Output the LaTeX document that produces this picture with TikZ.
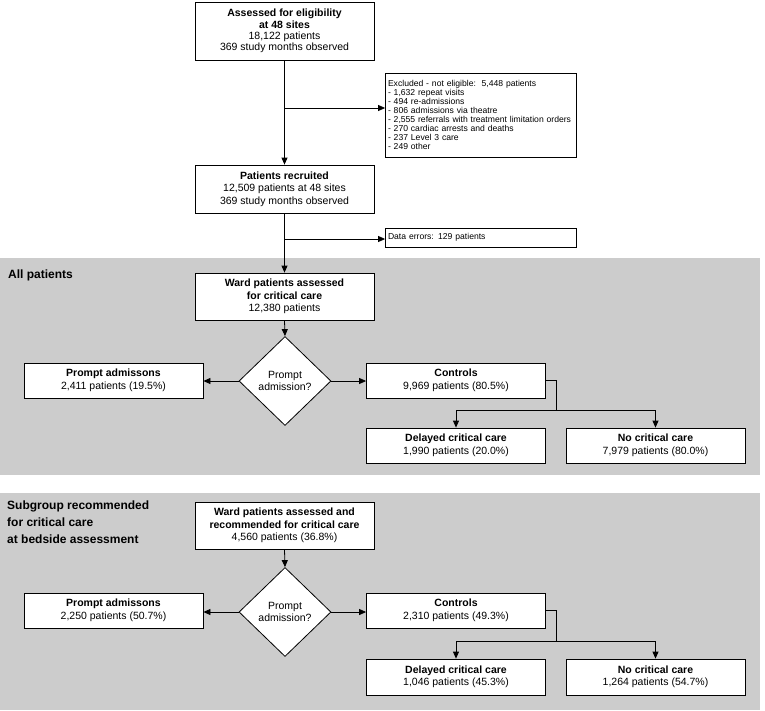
\documentclass[tikz,border=0pt]{standalone}
\usepackage{fontspec}
\setmainfont{Liberation Sans}
\usetikzlibrary{shapes.geometric,arrows.meta}
\definecolor{bandgray}{RGB}{204,204,204}
\newcommand\boxfont{\fontsize{10.5}{12.5}\selectfont}
\newcommand\tightfont{\fontsize{10.5}{11.3}\selectfont}
\newcommand\smallfont{\fontsize{8.6}{9.1}\selectfont}
\newcommand\labelfont{\fontsize{12}{16.7}\selectfont\bfseries}
\begin{document}
\begin{tikzpicture}[x=1pt,y=-1pt,
  box/.style={draw,fill=white,line width=0.8pt,align=center,inner sep=0pt,font=\boxfont},
  colbox/.style={box,minimum width=179pt},
  sidebox/.style={box,minimum width=179pt,minimum height=35pt},
  decision/.style={draw,fill=white,diamond,line width=0.8pt,inner sep=0pt,minimum width=92pt,minimum height=89pt,align=center,font=\boxfont},
  note/.style={draw,fill=white,line width=0.8pt,align=left,font=\smallfont,inner xsep=2.5pt,inner ysep=0pt,text width=186pt},
  conn/.style={line width=0.8pt},
  arr/.style={conn,-{Triangle[length=7pt,width=6pt]}},
  band/.style={fill=bandgray},
  bandlabel/.style={align=left,font=\labelfont,inner sep=0pt}]
\useasboundingbox (0,0) rectangle (765,710);
\fill[band] (0,258) rectangle (760,475);
\fill[band] (0,493) rectangle (760,710);

% top part
\node[colbox,minimum height=58pt,font=\tightfont] (assess) at (284.5,31) {\textbf{Assessed for eligibility}\\\textbf{at 48 sites}\\18,122 patients\\369 study months observed};
\node[note,minimum height=84pt] (excl) at (481,115) {Excluded - not eligible:\ \ 5,448 patients\\- 1,632 repeat visits\\- 494 re-admissions\\- 806 admissions via theatre\\- 2,555 referrals with treatment limitation orders\\- 270 cardiac arrests and deaths\\- 237 Level 3 care\\- 249 other};
\node[colbox,minimum height=48pt] (recr) at (284.5,189) {\textbf{Patients recruited}\\12,509 patients at 48 sites\\369 study months observed};
\node[note,minimum height=19pt] (err) at (481,237.5) {Data errors: 129 patients};

% band 1
\node[bandlabel,anchor=base west] (lab1) at (8,278) {All patients};
\node[colbox,minimum height=47pt] (ward1) at (284.5,296.5) {\textbf{Ward patients assessed}\\\textbf{for critical care}\\12,380 patients};
\node[decision] (d1) at (285,381) {Prompt\\admission?};
\node[sidebox] (prompt1) at (113.5,380.5) {\textbf{Prompt admissons}\\2,411 patients (19.5\%)};
\node[sidebox] (ctrl1) at (456,380.5) {\textbf{Controls}\\9,969 patients (80.5\%)};
\node[sidebox] (del1) at (456,445.5) {\textbf{Delayed critical care}\\1,990 patients (20.0\%)};
\node[sidebox] (no1) at (655.5,445.5) {\textbf{No critical care}\\7,979 patients (80.0\%)};

% band 2
\node[bandlabel,anchor=north west] (lab2) at (7,501) {Subgroup recommended\\for critical care\\at bedside assessment};
\node[colbox,minimum height=47pt] (ward2) at (284.5,525.5) {\textbf{Ward patients assessed and}\\\textbf{recommended for critical care}\\4,560 patients (36.8\%)};
\node[decision] (d2) at (285,612) {Prompt\\admission?};
\node[sidebox] (prompt2) at (113.5,610.5) {\textbf{Prompt admissons}\\2,250 patients (50.7\%)};
\node[sidebox] (ctrl2) at (456,610.5) {\textbf{Controls}\\2,310 patients (49.3\%)};
\node[sidebox,minimum height=36pt] (del2) at (456,677) {\textbf{Delayed critical care}\\1,046 patients (45.3\%)};
\node[sidebox,minimum height=36pt] (no2) at (655.5,677) {\textbf{No critical care}\\1,264 patients (54.7\%)};

% connectors
\draw[arr] (assess.south) -- (recr.north);
\coordinate (j1) at (284.5,108);
\draw[arr] (j1) -- (j1 -| excl.west);
\draw[arr] (recr.south) -- (ward1.north);
\coordinate (j2) at (284.5,239);
\draw[arr] (j2) -- (j2 -| err.west);

\draw[arr] (ward1.south) -- (d1.north);
\draw[arr] (d1.west) -- (d1.west -| prompt1.east);
\draw[arr] (d1.east) -- (d1.east -| ctrl1.west);
\coordinate (b1) at (556,410);
\draw[conn] (ctrl1.east) -| (b1);
\draw[arr] (b1) -| (del1.north);
\draw[arr] (b1) -| (no1.north);

\draw[arr] (ward2.south) -- (d2.north);
\draw[arr] (d2.west) -- (d2.west -| prompt2.east);
\draw[arr] (d2.east) -- (d2.east -| ctrl2.west);
\coordinate (b2) at (556,641);
\draw[conn] (ctrl2.east) -| (b2);
\draw[arr] (b2) -| (del2.north);
\draw[arr] (b2) -| (no2.north);
\end{tikzpicture}
\end{document}
